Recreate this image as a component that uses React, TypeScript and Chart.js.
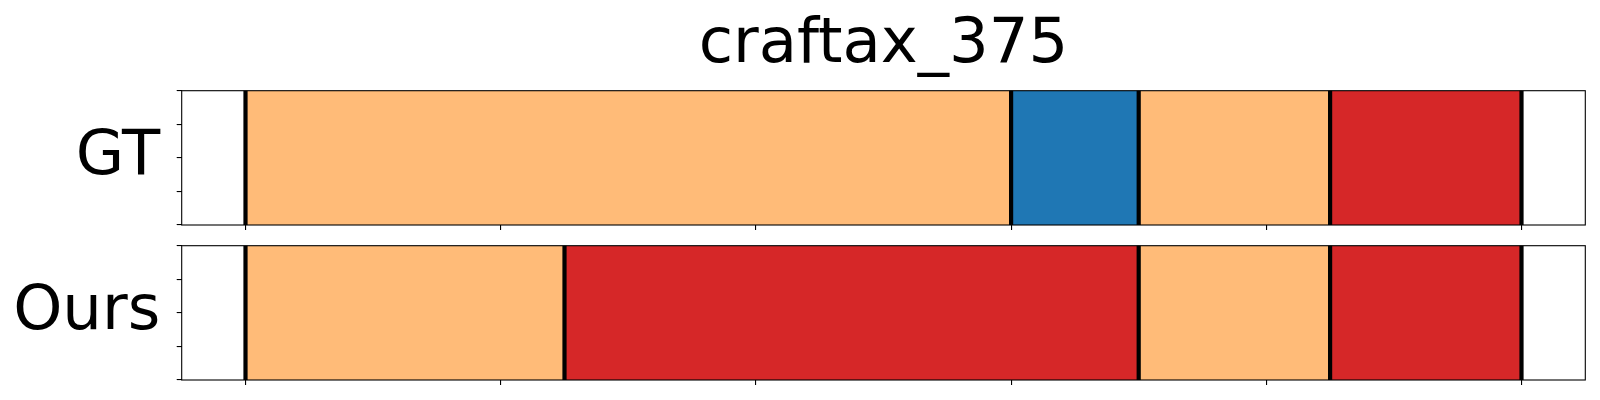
import React, { useEffect, useRef } from "react";
import { Chart, registerables } from "chart.js";

Chart.register(...registerables);

// ---- data ----
const title = "craftax_375";
const rowLabels = ["GT", "Ours"];
const classColors = ["#ffbb78", "#1f77b4", "#d62728"];
const gtBounds = [0, 0.6, 0.7, 0.85, 1.0];
const gtClasses = [0, 1, 0, 2];
const oursBounds = [0, 0.25, 0.7, 0.85, 1.0];
const oursClasses = [0, 2, 0, 2];
const xTicks = [0, 0.2, 0.4, 0.6, 0.8, 1.0];
const yTicks = [0, 0.25, 0.5, 0.75, 1.0];
const xMin = -0.05;
const xMax = 1.05;

const FONT = "DejaVu Sans";

function makeConfig(
  label: string,
  bounds: number[],
  classes: number[],
  padding: { top: number; bottom: number; left: number; right: number },
  showTitle: boolean
): any {
  const data = classes.map((c, i) => ({ x: [bounds[i], bounds[i + 1]], y: label }));
  const colors = classes.map((c) => classColors[c]);
  const decor = {
    id: "decor" + label,
    afterDatasetsDraw(chart: any) {
      const ctx = chart.ctx;
      const area = chart.chartArea;
      const xs = chart.scales.x;
      ctx.save();
      // boundary lines
      ctx.strokeStyle = "#000000";
      ctx.lineWidth = 4.2;
      bounds.forEach((b) => {
        const px = xs.getPixelForValue(b);
        ctx.beginPath();
        ctx.moveTo(px, area.top);
        ctx.lineTo(px, area.bottom);
        ctx.stroke();
      });
      // frame
      ctx.lineWidth = 1.1;
      ctx.strokeRect(area.left, area.top, area.right - area.left, area.bottom - area.top);
      // row label
      ctx.fillStyle = "#000000";
      ctx.font = `62.5px "${FONT}"`;
      ctx.textAlign = "right";
      ctx.textBaseline = "alphabetic";
      const cy = (area.top + area.bottom) / 2;
      ctx.fillText(label, area.left - 21.5, cy + 16.5);
      if (showTitle) {
        ctx.textAlign = "center";
        ctx.fillText(title, (area.left + area.right) / 2, 62);
      }
      ctx.restore();
    },
  };
  const tickGrid = {
    display: true,
    offset: false,
    drawOnChartArea: false,
    drawTicks: true,
    tickLength: 5,
    color: "#000000",
    lineWidth: 1.1,
  };
  return {
    type: "bar",
    data: {
      labels: [label],
      datasets: [
        {
          data,
          backgroundColor: colors,
          borderWidth: 0,
          categoryPercentage: 1,
          barPercentage: 1,
          yAxisID: "y",
        },
      ],
    },
    options: {
      indexAxis: "y",
      responsive: false,
      animation: false,
      layout: { padding },
      plugins: {
        legend: { display: false },
        tooltip: { enabled: false },
        title: { display: false },
      },
      scales: {
        x: {
          type: "linear",
          min: xMin,
          max: xMax,
          offset: false,
          afterBuildTicks: (scale: any) => {
            scale.ticks = xTicks.map((v) => ({ value: v }));
          },
          afterFit: (scale: any) => {
            scale.height = 5;
          },
          ticks: { display: false, autoSkip: false },
          grid: tickGrid,
          border: { display: false },
        },
        y: {
          type: "category",
          labels: [label],
          display: false,
          offset: true,
        },
        y2: {
          type: "linear",
          position: "left",
          min: 0,
          max: 1,
          offset: false,
          afterBuildTicks: (scale: any) => {
            scale.ticks = yTicks.map((v) => ({ value: v }));
          },
          afterFit: (scale: any) => {
            scale.width = 5;
          },
          ticks: { display: false, autoSkip: false },
          grid: tickGrid,
          border: { display: false },
        },
      },
    },
    plugins: [decor],
  };
}

function StripChart(props: {
  label: string;
  bounds: number[];
  classes: number[];
  padding: { top: number; bottom: number; left: number; right: number };
  showTitle: boolean;
}) {
  const ref = useRef<HTMLCanvasElement | null>(null);
  useEffect(() => {
    if (!ref.current) return;
    const chart = new Chart(
      ref.current,
      makeConfig(props.label, props.bounds, props.classes, props.padding, props.showTitle)
    );
    return () => chart.destroy();
  }, []);
  return (
    <canvas
      ref={ref}
      width={1600}
      height={400}
      style={{ position: "absolute", left: 0, top: 0, width: 1600, height: 400 }}
    />
  );
}

export default function App() {
  return (
    <div
      style={{
        position: "absolute",
        left: 0,
        top: 0,
        width: 1600,
        height: 400,
        background: "#ffffff",
      }}
    >
      <StripChart
        label={rowLabels[0]}
        bounds={gtBounds}
        classes={gtClasses}
        padding={{ top: 90.7, bottom: 170, left: 176.7, right: 14.7 }}
        showTitle={true}
      />
      <StripChart
        label={rowLabels[1]}
        bounds={oursBounds}
        classes={oursClasses}
        padding={{ top: 245.7, bottom: 15, left: 176.7, right: 14.7 }}
        showTitle={false}
      />
    </div>
  );
}
